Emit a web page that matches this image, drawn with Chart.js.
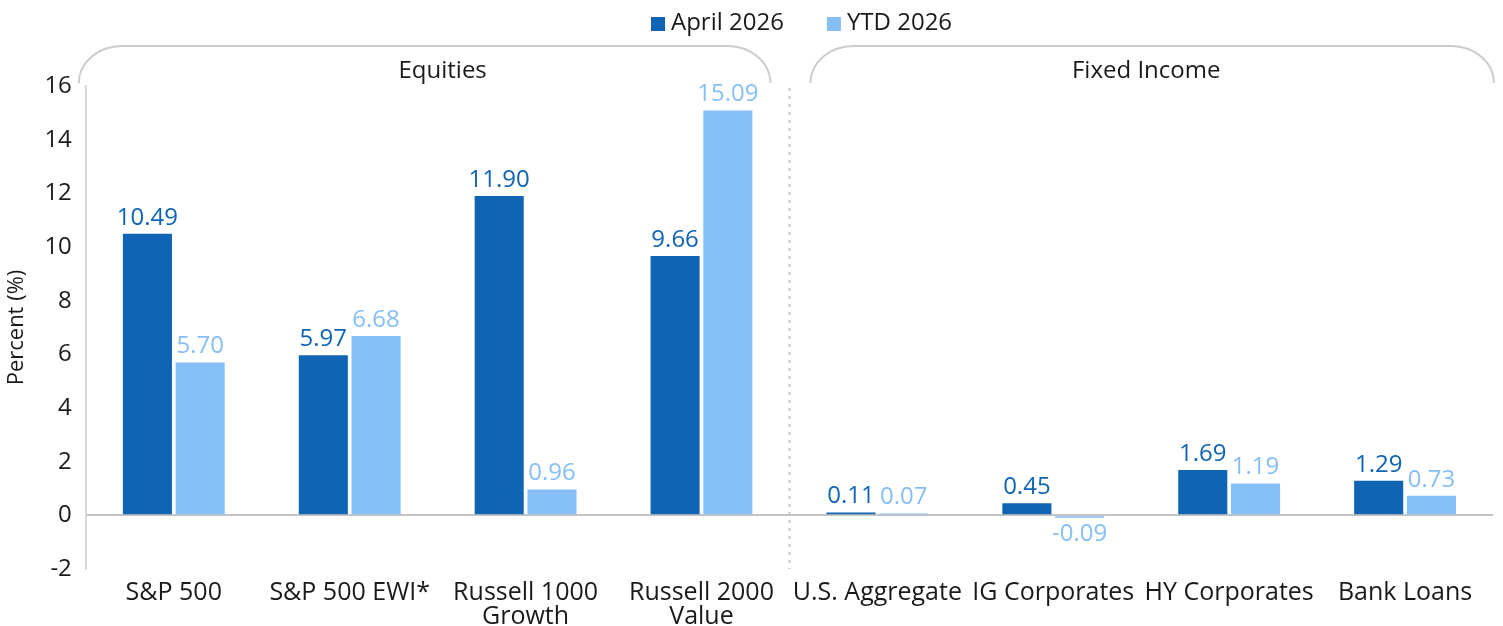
<!DOCTYPE html>
<html>
<head>
<meta charset="utf-8">
<script src="https://cdn.jsdelivr.net/npm/chart.js@4.4.1/dist/chart.umd.min.js"></script>
<style>
  html, body { margin: 0; padding: 0; background: #fff; }
  #wrap { width: 1503px; height: 626px; }
</style>
</head>
<body>
<div id="wrap"><canvas id="myChart" width="1503" height="626"></canvas></div>
<script>
// -------- Data --------
const categories = [
  'S&P 500', 'S&P 500 EWI*', ['Russell 1000', 'Growth'], ['Russell 2000', 'Value'],
  'U.S. Aggregate', 'IG Corporates', 'HY Corporates', 'Bank Loans'
];
const april2026 = [10.49, 5.97, 11.90, 9.66, 0.11, 0.45, 1.69, 1.29];
const ytd2026 = [5.70, 6.68, 0.96, 15.09, 0.07, -0.09, 1.19, 0.73];
const groups = [
  { label: 'Equities', from: 0, to: 3 },
  { label: 'Fixed Income', from: 4, to: 7 }
];

const DARK = '#1064b4';
const LIGHT = '#86bef7';
const FONT = "'Open Sans', 'Noto Sans', sans-serif";

// -------- Decorations: legend, brackets, separator, value labels --------
const extras = {
  id: 'extras',
  afterDraw(chart) {
    const { ctx, chartArea } = chart;
    const x = chart.scales.x;
    const step = x.getPixelForValue(1) - x.getPixelForValue(0);
    ctx.save();

    // legend
    ctx.font = '24px ' + FONT;
    ctx.textBaseline = 'middle';
    ctx.textAlign = 'left';
    let lx = 651;
    chart.data.datasets.forEach(ds => {
      ctx.fillStyle = ds.backgroundColor;
      ctx.fillRect(lx, 17, 14, 14);
      ctx.fillStyle = '#1a1a1a';
      ctx.fillText(ds.label, lx + 20, 23);
      lx += 20 + ctx.measureText(ds.label).width + 43;
    });

    // separator between groups
    const sepX = x.getPixelForValue(3) + step / 2;
    ctx.strokeStyle = '#c8c8c8';
    ctx.lineWidth = 2;
    ctx.setLineDash([3, 5]);
    ctx.beginPath();
    ctx.moveTo(sepX, chartArea.top + 2);
    ctx.lineTo(sepX, chartArea.bottom);
    ctx.stroke();
    ctx.setLineDash([]);

    // group brackets
    const top = 46, bot = 83, rx = 43, ry = bot - top;
    groups.forEach((g, i) => {
      const gl = x.getPixelForValue(g.from) - step / 2;
      const gr = x.getPixelForValue(g.to) + step / 2;
      const left = i === 0 ? gl - 7 : gl + 21;
      const right = i === 0 ? gr - 19 : gr + 1;
      ctx.strokeStyle = '#cccccc';
      ctx.lineWidth = 2;
      ctx.beginPath();
      ctx.ellipse(left + rx, bot, rx, ry, 0, Math.PI, Math.PI * 1.5);
      ctx.lineTo(right - rx, top);
      ctx.ellipse(right - rx, bot, rx, ry, 0, Math.PI * 1.5, Math.PI * 2);
      ctx.stroke();
      ctx.fillStyle = '#1a1a1a';
      ctx.textAlign = 'center';
      ctx.font = '24px ' + FONT;
      ctx.fillText(g.label, (gl + gr) / 2 + 5, 71);
    });

    // value labels
    ctx.font = '24px ' + FONT;
    ctx.textAlign = 'center';
    chart.data.datasets.forEach((ds, di) => {
      const meta = chart.getDatasetMeta(di);
      meta.data.forEach((bar, i) => {
        const v = ds.data[i];
        ctx.fillStyle = ds.backgroundColor;
        if (v >= 0) {
          ctx.textBaseline = 'bottom';
          ctx.fillText(v.toFixed(2), bar.x, bar.y - 4);
        } else {
          ctx.textBaseline = 'top';
          ctx.fillText(v.toFixed(2), bar.x, bar.y + 4);
        }
      });
    });
    ctx.restore();
  }
};

// -------- Chart --------
const ctx = document.getElementById('myChart').getContext('2d');
new Chart(ctx, {
  type: 'bar',
  data: {
    labels: categories,
    datasets: [
      { label: 'April 2026', data: april2026, backgroundColor: DARK,
        categoryPercentage: 0.6, barPercentage: 0.93 },
      { label: 'YTD 2026', data: ytd2026, backgroundColor: LIGHT,
        categoryPercentage: 0.6, barPercentage: 0.93 }
    ]
  },
  options: {
    responsive: false,
    animation: false,
    layout: { padding: { top: 86, right: 10, left: 0, bottom: -15 } },
    plugins: {
      legend: { display: false },
      tooltip: { enabled: false }
    },
    scales: {
      x: {
        grid: { display: false, drawTicks: false },
        border: { display: false },
        ticks: {
          color: '#1a1a1a',
          font: { family: FONT, size: 25, lineHeight: 0.96 },
          padding: 12,
          maxRotation: 0,
          autoSkip: false
        }
      },
      y: {
        min: -2,
        max: 16,
        ticks: {
          stepSize: 2,
          color: '#1a1a1a',
          font: { family: FONT, size: 24 },
          padding: 14
        },
        grid: {
          drawTicks: false,
          color: c => (c.tick && c.tick.value === 0 ? '#c4c4c4' : 'rgba(0,0,0,0)'),
          lineWidth: 2
        },
        border: { color: '#d9d9d9', width: 2 },
        title: {
          display: true,
          text: 'Percent (%)',
          color: '#1a1a1a',
          font: { family: FONT, size: 22 },
          padding: { top: 4, bottom: 0 }
        }
      }
    }
  },
  plugins: [extras]
});
</script>
</body>
</html>
